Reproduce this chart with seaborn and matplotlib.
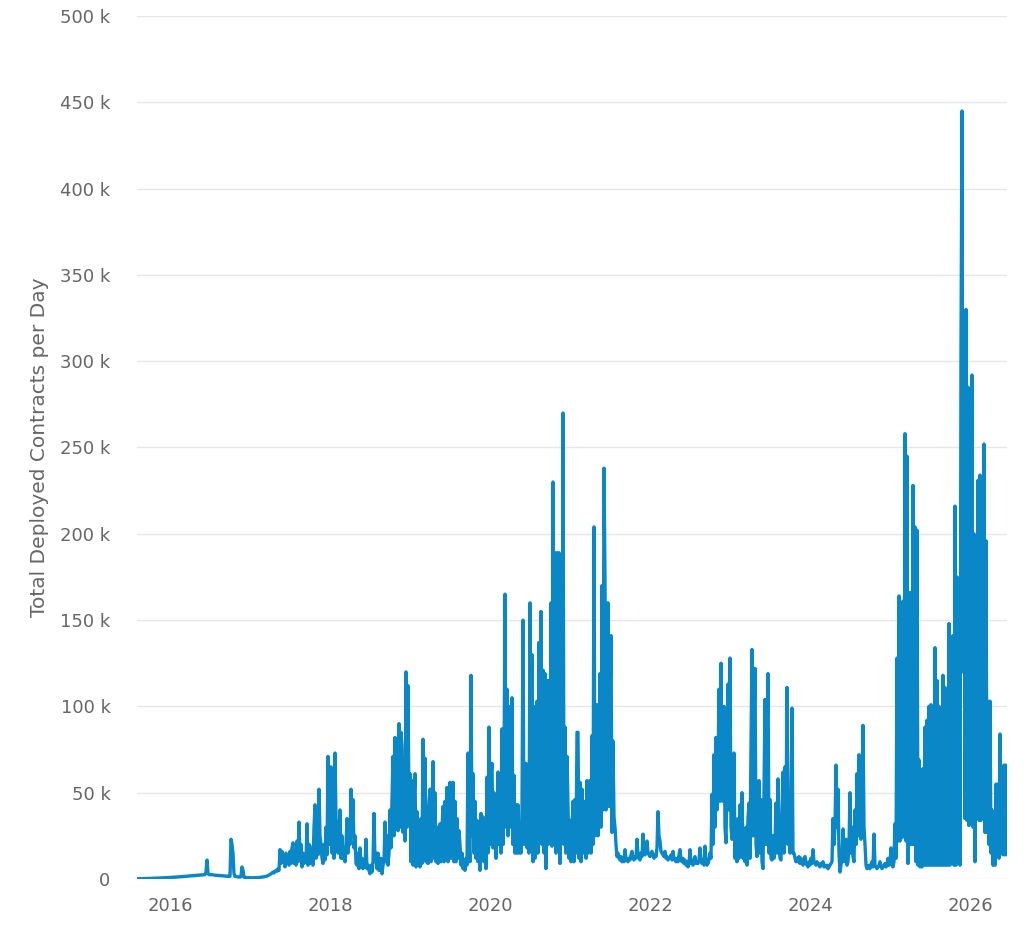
import pandas as pd
import seaborn as sns
import matplotlib.pyplot as plt

# deployed contracts per day (thousands), sampled every ~4.6 days,
# highs and lows read off the chart in order
k_2015_2016 = [0.2, 0.2, 0.2, 0.2, 0.2, 0.2, 0.3, 0.2, 0.3, 0.3,
               0.3, 0.3, 0.3, 0.4, 0.3, 0.4, 0.4, 0.5, 0.4, 0.5,
               0.5, 0.5, 0.6, 0.5, 0.6, 0.7, 0.6, 0.7, 0.8, 0.7,
               0.8, 0.8, 0.9, 0.8, 1.0, 0.9, 1.0, 1.1, 1.0, 1.2,
               1.1, 1.2, 1.3, 1.2, 1.4, 1.3, 1.5, 1.4, 1.6, 1.5,
               1.7, 1.6, 1.8, 1.7, 1.9, 1.8, 2.0, 1.9, 2.1, 2.0,
               2.2, 2.1, 2.3, 2.2, 2.4, 2.3, 2.5, 2.4, 2.6, 4.0,
               11.0, 3.0, 2.6, 2.4, 2.6, 2.5, 2.4, 2.3, 2.2, 2.1,
               2.2, 2.0, 2.1, 1.9, 2.0, 1.8, 1.9, 1.7, 1.8, 1.6,
               1.7, 1.5, 1.6, 1.5, 23.0, 20.0, 15.0, 3.0, 1.5, 1.4,
               1.3, 1.2, 1.2, 1.1, 1.5, 7.0, 5.0, 1.0, 0.9, 0.9,
               0.8, 0.8, 0.8, 0.7, 0.7, 0.7, 0.7, 0.7, 0.8, 0.8,
               0.8, 0.9, 0.9, 1.0, 1.0, 1.1, 1.2, 1.3, 1.4, 1.5,
               1.7, 2.0, 2.3, 2.6, 3.0, 3.5, 4.0, 3.5, 4.5, 5.0,
               4.5, 6.0, 5.0]

k_2017_2018 = [17, 9, 16, 10, 14, 7, 15, 9, 13, 8,
               16, 9, 18, 21, 9, 14, 8, 22, 10, 33,
               12, 20, 7, 15, 9, 14, 10, 32, 8, 20,
               19, 9, 14, 8, 30, 43, 12, 30, 14, 52,
               25, 20, 12, 9, 20, 11, 30, 14, 71, 20,
               40, 65, 15, 30, 12, 73, 35, 30, 15, 25,
               40, 12, 25, 12, 18, 10, 20, 35, 15, 30,
               20, 52, 25, 46, 18, 25, 9, 8, 15, 6,
               18, 8, 12, 6, 10, 7, 23, 6, 8, 5,
               3, 8, 4, 10, 38, 10, 15, 6, 15, 5,
               5, 12, 3, 8, 10, 33, 10, 25, 8, 15]

k_2019 = [40, 18, 46, 71, 25, 82, 30, 75, 28, 90,
          30, 85, 77, 27, 40, 22, 120, 30, 112, 40,
          61, 10, 57, 8, 45, 61, 7, 39, 8, 30,
          7, 35, 9, 81, 12, 70, 10, 42, 9, 45,
          52, 10, 40, 68, 12, 50, 10, 30, 9, 25,
          32, 10, 30, 42, 10, 45, 12, 53, 10, 45,
          56, 12, 40, 56, 10, 45, 10, 35, 12, 28,
          20, 8, 15, 6, 10, 5, 12, 8, 73, 20,
          10, 118, 25, 61, 15, 45, 12, 34, 10, 30,
          5, 38, 12, 36, 10, 20, 6, 59, 15, 88,
          20, 60, 67, 18, 50, 42, 12, 25, 62, 20]

k_2020_2021 = [42, 15, 87, 20, 60, 165, 30, 110, 25, 100,
               30, 40, 105, 20, 60, 15, 43, 15, 43, 15,
               30, 15, 40, 150, 20, 60, 67, 18, 60, 15,
               160, 30, 130, 10, 100, 12, 90, 103, 15, 137,
               30, 155, 20, 121, 15, 119, 6, 115, 20, 115,
               25, 160, 19, 230, 25, 189, 15, 189, 20, 189,
               9, 88, 30, 270, 20, 88, 15, 71, 42, 12,
               34, 10, 30, 45, 10, 46, 15, 85, 85, 12,
               56, 10, 52, 15, 40, 45, 12, 57, 15, 50,
               57, 15, 83, 20, 204, 25, 60, 101, 25, 60,
               119, 30, 170, 40, 238, 174, 40, 120, 160, 42,
               100, 141, 27, 80, 36, 30, 20, 13, 15, 12]

k_2021_2022 = [11, 13, 10, 12, 10, 17, 12, 11, 10, 12,
               11, 14, 16, 12, 11, 13, 12, 23, 14, 12,
               11, 15, 13, 26, 15, 14, 16, 22, 15, 14,
               13, 15, 16, 14, 12, 14, 13, 18, 39, 25,
               22, 16, 15, 14, 13, 16, 12, 13, 11, 12,
               12, 14, 11, 16, 12, 11, 10, 12, 10, 14,
               17, 11, 10, 12, 9, 11, 8, 10, 7, 9,
               17, 9, 10, 8, 11, 13, 9, 10, 9, 11,
               18, 10, 9, 11, 8, 19, 10, 8, 9, 11,
               15, 12]

k_2023 = [49, 20, 72, 30, 82, 40, 60, 110, 45, 125,
          51, 45, 100, 30, 21, 60, 113, 40, 128, 30,
          23, 40, 73, 12, 30, 10, 35, 12, 43, 15,
          50, 12, 25, 10, 30, 8, 35, 44, 12, 77,
          133, 25, 90, 122, 20, 13, 40, 57, 15, 46,
          10, 6, 50, 104, 20, 80, 119, 15, 46, 12,
          11, 25, 12, 20, 44, 15, 58, 20, 12, 11,
          40, 62, 15, 65, 30, 111, 20, 40, 15, 50,
          99, 15, 15, 12, 10, 12, 10, 13, 9, 12]

k_2024 = [10, 8, 11, 13, 9, 8, 7, 10, 8, 12,
          9, 17, 10, 9, 8, 10, 9, 8, 7, 9,
          8, 10, 7, 8, 7, 8, 6, 7, 8, 9,
          10, 35, 20, 30, 66, 30, 52, 15, 4, 8,
          12, 29, 10, 15, 23, 8, 10, 20, 50, 15,
          30, 13, 10, 40, 20, 61, 25, 72, 30, 23,
          50, 89, 30, 20, 8, 6, 7, 8, 6, 8,
          10, 7, 26, 8, 7, 6, 7, 8, 10, 7,
          6, 7, 8, 9, 7, 8, 12, 8, 9, 18,
          8, 7, 10, 32]

k_2025_2026 = [12, 128, 22, 164, 22, 160, 24, 161, 30, 258,
               22, 245, 9, 166, 20, 166, 20, 228, 20, 204,
               10, 202, 8, 69, 7, 40, 7, 64, 8, 88,
               8, 92, 8, 100, 8, 101, 8, 40, 8, 134,
               8, 115, 8, 100, 8, 90, 8, 118, 8, 111,
               8, 60, 8, 148, 8, 140, 9, 141, 8, 216,
               8, 175, 9, 125, 8, 308, 445, 120, 297, 35,
               330, 34, 285, 31, 273, 35, 292, 30, 200, 10,
               79, 54, 231, 34, 234, 34, 232, 50, 252, 27,
               196, 27, 103, 20, 103, 15, 40, 8, 25, 8,
               55, 15, 55, 12, 84, 15, 30, 14, 66, 14,
               66, 14]

contracts_k = (k_2015_2016 + k_2017_2018 + k_2019 + k_2020_2021
               + k_2021_2022 + k_2023 + k_2024 + k_2025_2026)
dates = pd.date_range("2015-08-03", "2026-06-18", periods=len(contracts_k))
df = pd.DataFrame({"date": dates, "contracts": contracts_k})

year_ticks = [2016, 2018, 2020, 2022, 2024, 2026]
k_ticks = [0, 50, 100, 150, 200, 250, 300, 350, 400, 450, 500]

sns.set_theme(style="whitegrid", rc={"grid.color": "#e6e6e6", "grid.linewidth": 1.0})
plt.rcParams["font.family"] = ["DejaVu Sans"]
plt.rcParams["path.simplify"] = False  # keep every spike of the dense series

fig = plt.figure(figsize=(10.24, 9.39), dpi=100)
ax = fig.add_axes([137 / 1024, 1 - 879 / 939, 870 / 1024, 863 / 939])

sns.lineplot(data=df, x="date", y="contracts", color="#0987c6", linewidth=2.4, ax=ax)

ax.set_xlim(dates[0], dates[-1])
ax.set_ylim(0, 500)
ax.set_xticks([pd.Timestamp(f"{y}-01-01") for y in year_ticks])
ax.set_xticklabels([str(y) for y in year_ticks])
ax.set_yticks(k_ticks)
ax.set_yticklabels(["0" if v == 0 else f"{v} k" for v in k_ticks])
ax.grid(axis="x", visible=False)
ax.tick_params(axis="both", length=0, labelsize=13, labelcolor="#666666")
ax.tick_params(axis="y", pad=19)
ax.tick_params(axis="x", pad=13)
for s in ax.spines.values():
    s.set_visible(False)

ax.set_xlabel("")
ax.set_ylabel("Total Deployed Contracts per Day", fontsize=14.5, color="#666666")
ax.yaxis.set_label_coords(-0.101, 0.5)

fig.savefig("out.png", dpi=100)
